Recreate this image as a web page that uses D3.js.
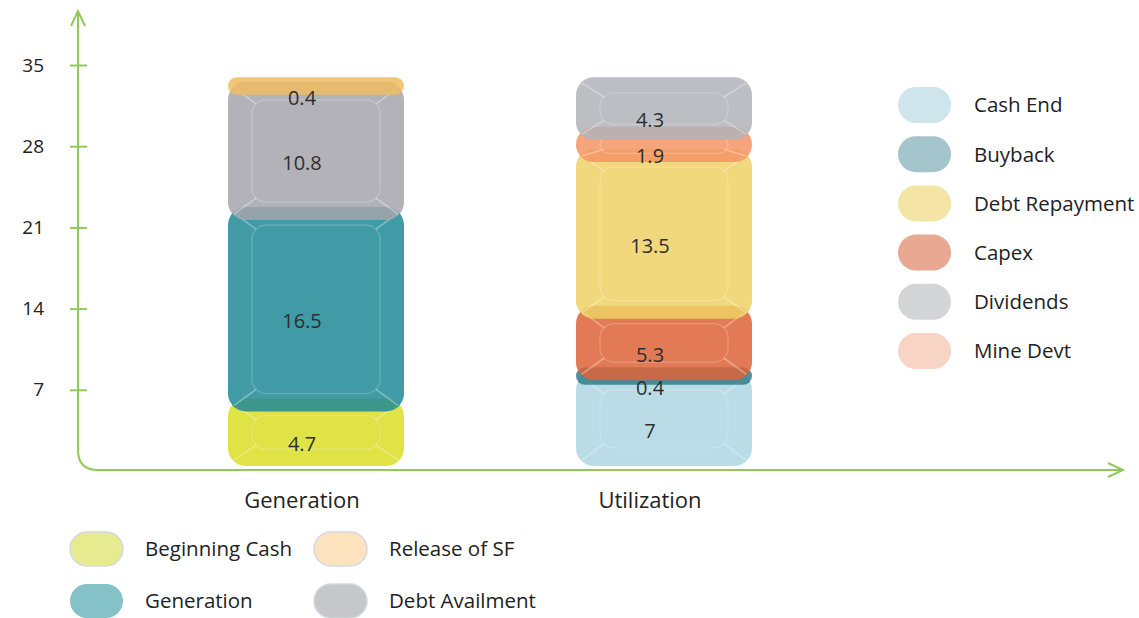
<!DOCTYPE html>
<html>
<head>
<meta charset="utf-8">
<script src="https://cdn.jsdelivr.net/npm/d3@7"></script>
<style>
  html, body { margin: 0; padding: 0; background: #ffffff; }
  svg { display: block; font-family: "Open Sans", "Noto Sans", sans-serif; }
</style>
</head>
<body>
<svg id="chart" width="1139" height="618"></svg>
<script>
// Cash sources and uses, two stacked columns
const categories = ["Generation", "Utilization"];

const sourceNames  = ["Beginning Cash", "Generation", "Debt Availment", "Release of SF"];
const sourceValues = [4.7, 16.5, 10.8, 0.4];

const useNames  = ["Cash End", "Buyback", "Capex", "Debt Repayment", "Mine Devt", "Dividends"];
const useValues = [7, 0.4, 5.3, 13.5, 1.9, 4.3];

const yTicks = [7, 14, 21, 28, 35];

// legend order
const rightLegend  = ["Cash End", "Buyback", "Debt Repayment", "Capex", "Dividends", "Mine Devt"];
const bottomLegend = [["Beginning Cash", "Release of SF"], ["Generation", "Debt Availment"]];

// block colours (drawn translucent) and lighter legend swatch colours
const blockColor = {
  "Beginning Cash": "#dade26", "Generation": "#1f8a96", "Debt Availment": "#a5a5ac", "Release of SF": "#f0bc62",
  "Cash End": "#add6e2", "Buyback": "#307c8b", "Capex": "#dd6337", "Debt Repayment": "#efd165",
  "Mine Devt": "#f49465", "Dividends": "#b1b3b9"
};
const swatchColor = {
  "Beginning Cash": "#e7eb90", "Generation": "#85c2c7", "Debt Availment": "#c6c7c9", "Release of SF": "#fde4bf",
  "Cash End": "#cfe5ec", "Buyback": "#a4c5cb", "Capex": "#e8a892", "Debt Repayment": "#f4e4a6",
  "Mine Devt": "#f8d4c4", "Dividends": "#d4d5d7"
};

const svg = d3.select("#chart");
const axisColor = "#92c95a";

const y = d3.scaleLinear().domain([0, 35]).range([471, 65]);
const x = d3.scaleBand().domain(categories).range([128, 824]).paddingInner(0.5).paddingOuter(0.25);

// stacked segments per column
function stackOf(names, values) {
  let acc = 0;
  return names.map((n, i) => {
    const d = { name: n, value: values[i], y0: acc, y1: acc + values[i] };
    acc += values[i];
    return d;
  });
}
const columns = [
  { cat: categories[0], segs: stackOf(sourceNames, sourceValues) },
  { cat: categories[1], segs: stackOf(useNames, useValues) }
];

// axes: rounded corner and arrow heads
svg.append("path")
  .attr("d", `M78,12 L78,450 Q78,470 98,470 L1121,470`)
  .attr("fill", "none").attr("stroke", axisColor).attr("stroke-width", 2);
svg.append("path")
  .attr("d", "M71,26 L78,11 L85,26")
  .attr("fill", "none").attr("stroke", axisColor).attr("stroke-width", 2);
svg.append("path")
  .attr("d", "M1108,463 L1123,470 L1108,477")
  .attr("fill", "none").attr("stroke", axisColor).attr("stroke-width", 2);

const yAxis = svg.append("g")
  .attr("transform", "translate(87,0)")
  .call(d3.axisLeft(y).tickValues(yTicks).tickSize(17).tickPadding(26).tickFormat(d3.format("d")));
yAxis.select(".domain").remove();
yAxis.selectAll(".tick line").attr("stroke", axisColor).attr("stroke-width", 2);
yAxis.selectAll(".tick text").attr("fill", "#222").style("font-size", "19px")
  .style("font-family", "'Open Sans', sans-serif");

// blocks, each upper block overlapping the top of the one below
const blocks = svg.append("g");
columns.forEach(col => {
  const bx = x(col.cat), bw = x.bandwidth();
  col.segs.forEach(s => {
    const top = y(s.y1) - 18, bot = y(s.y0) - 5;
    const h = Math.max(bot - top, 16);
    const left = bx + 13, w = bw + 2;
    const r = Math.min(18, h / 2);
    const g = blocks.append("g");
    g.append("rect")
      .attr("x", left).attr("y", top).attr("width", w).attr("height", h)
      .attr("rx", r).attr("ry", r)
      .attr("fill", blockColor[s.name]).attr("fill-opacity", 0.85);
    // bevel: inner face and corner lines
    const ix = 24, iy = Math.min(18, h * 0.25);
    if (h > 30) {
      g.append("rect")
        .attr("x", left + ix).attr("y", top + iy).attr("width", w - 2 * ix).attr("height", h - 2 * iy)
        .attr("rx", Math.min(14, (h - 2 * iy) / 2))
        .attr("fill", "none")
        .attr("stroke", "#ffffff").attr("stroke-opacity", 0.22).attr("stroke-width", 1.2);
      const corners = [
        [left + 6, top + 6, left + ix + 4, top + iy + 4],
        [left + w - 6, top + 6, left + w - ix - 4, top + iy + 4],
        [left + 6, top + h - 6, left + ix + 4, top + h - iy - 4],
        [left + w - 6, top + h - 6, left + w - ix - 4, top + h - iy - 4]
      ];
      corners.forEach(c => g.append("line")
        .attr("x1", c[0]).attr("y1", c[1]).attr("x2", c[2]).attr("y2", c[3])
        .attr("stroke", "#ffffff").attr("stroke-opacity", 0.35).attr("stroke-width", 1.5));
    }
  });
});

// value labels
columns.forEach(col => {
  const cx = x(col.cat) + x.bandwidth() / 2;
  svg.append("g").selectAll("text").data(col.segs).join("text")
    .attr("x", cx)
    .attr("y", d => (y(d.y0) + y(d.y1)) / 2)
    .attr("dy", "0.36em")
    .attr("text-anchor", "middle")
    .attr("fill", "#2e2e2e")
    .style("font-size", "20px")
    .text(d => d.value);
});

// category labels
svg.append("g").selectAll("text").data(categories).join("text")
  .attr("x", d => x(d) + x.bandwidth() / 2)
  .attr("y", 508)
  .attr("text-anchor", "middle")
  .attr("fill", "#222")
  .style("font-size", "22px")
  .text(d => d);

// right legend
const rl = svg.append("g").selectAll("g").data(rightLegend).join("g")
  .attr("transform", (d, i) => `translate(898,${105 + i * 49.2})`);
rl.append("rect").attr("x", 0).attr("y", -18).attr("width", 53).attr("height", 36)
  .attr("rx", 18).attr("fill", d => swatchColor[d]);
rl.append("text").attr("x", 76).attr("dy", "0.36em").attr("fill", "#222")
  .style("font-size", "20.5px").text(d => d);

// bottom legend
bottomLegend.forEach((row, ri) => {
  const g = svg.append("g").selectAll("g").data(row).join("g")
    .attr("transform", (d, ci) => `translate(${70 + ci * 244},${549 + ri * 52})`);
  g.append("rect").attr("x", 0).attr("y", -17).attr("width", 53).attr("height", 34)
    .attr("rx", 17).attr("fill", d => swatchColor[d])
    .attr("stroke", d => (d === "Generation" ? "none" : "#d3d8e2")).attr("stroke-width", 1.5);
  g.append("text").attr("x", 75).attr("dy", "0.36em").attr("fill", "#222")
    .style("font-size", "20.5px").text(d => d);
});
</script>
</body>
</html>
